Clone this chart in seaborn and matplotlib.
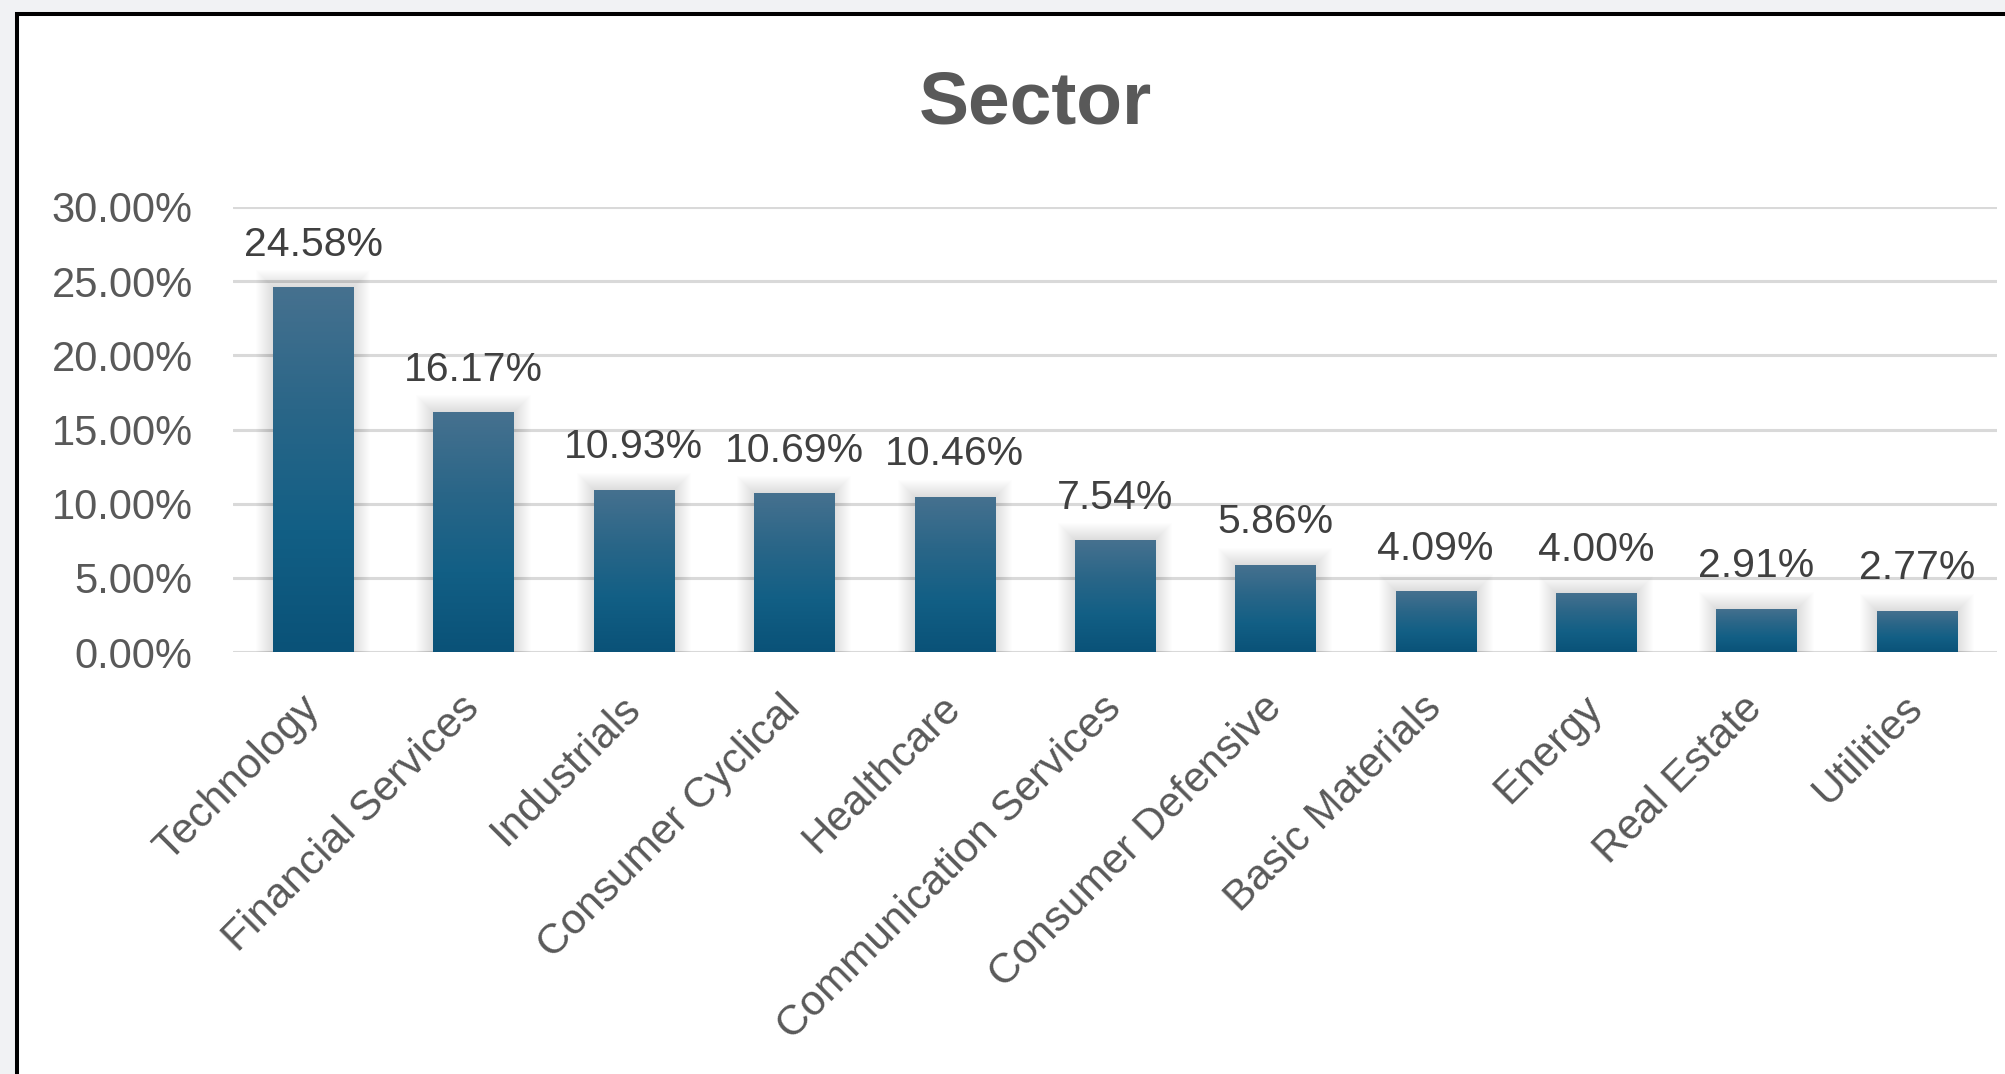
import numpy as np
import pandas as pd
import matplotlib
matplotlib.use("Agg")
import matplotlib.pyplot as plt
import seaborn as sns
from matplotlib.patches import Rectangle
from matplotlib.colors import LinearSegmentedColormap
from matplotlib.ticker import FuncFormatter, FixedLocator

# Sector allocation (% of portfolio)
sectors = ["Technology", "Financial Services", "Industrials", "Consumer Cyclical",
           "Healthcare", "Communication Services", "Consumer Defensive",
           "Basic Materials", "Energy", "Real Estate", "Utilities"]
weights = [24.58, 16.17, 10.93, 10.69, 10.46, 7.54, 5.86, 4.09, 4.00, 2.91, 2.77]
y_ticks = [0, 5, 10, 15, 20, 25, 30]
chart_title = "Sector"

sns.set_theme(style="white")
plt.rcParams["font.family"] = ["Liberation Sans", "DejaVu Sans"]

W, H = 2005, 1074
fig = plt.figure(figsize=(W / 100, H / 100), dpi=100, facecolor="#f1f2f4")

# white card with a heavy black edge on top and left
card = Rectangle((17 / W, -0.1), 1.0, 1.1 - 14 / H, transform=fig.transFigure,
                 facecolor="white", edgecolor="black", linewidth=2.9, zorder=-1)
fig.add_artist(card)

ax = fig.add_axes([233 / W, 1 - 652 / H, (1997 - 233) / W, (652 - 207) / H])
ax.patch.set_visible(False)

df = pd.DataFrame({"Sector": sectors, "Weight": weights})
sns.barplot(data=df, x="Sector", y="Weight", width=0.5, color="#135f85",
            saturation=1, ax=ax, zorder=3)

ax.set_xlim(-0.5, len(sectors) - 0.5)
ax.set_ylim(y_ticks[0], y_ticks[-1])

# vertical gradient fill plus a soft halo behind each bar
cmap = LinearSegmentedColormap.from_list("bar", ["#0a5278", "#125f85", "#2a6688", "#46718f"])
grad = np.linspace(0, 1, 256).reshape(-1, 1)
px_x = (1997 - 233) / len(sectors)
px_y = (652 - 207) / (y_ticks[-1] - y_ticks[0])
bars = list(ax.patches)
for p in bars:
    x0, w, h = p.get_x(), p.get_width(), p.get_height()
    for k in range(1, 18):
        dx, dy = k / px_x, k / px_y
        ax.add_patch(Rectangle((x0 - dx, 0), w + 2 * dx, h + dy, facecolor="black",
                               edgecolor="none", alpha=0.007, zorder=2))
    im = ax.imshow(grad, cmap=cmap, extent=[x0, x0 + w, 0, h], origin="lower",
                   aspect="auto", zorder=3, interpolation="bilinear")
    im.set_clip_path(p)
    p.set_facecolor("none")
    p.set_edgecolor("none")

ax.set_xlim(-0.5, len(sectors) - 0.5)
ax.set_ylim(y_ticks[0], y_ticks[-1])

ax.bar_label(ax.containers[0], labels=[f"{v:.2f}%" for v in weights],
             padding=17, fontsize=29.5, color="#404040")

ax.yaxis.set_major_locator(FixedLocator(y_ticks))
ax.yaxis.set_major_formatter(FuncFormatter(lambda v, _: f"{v:.2f}%"))
ax.yaxis.grid(True, color="#d9d9d9", linewidth=2.2)
ax.set_axisbelow(True)
for s in ax.spines.values():
    s.set_visible(False)

ax.tick_params(axis="y", length=0, pad=29, labelsize=30, labelcolor="#595959")
ax.tick_params(axis="x", length=0, pad=36, labelsize=30.5, labelcolor="#595959")
ax.set_xlabel("")
ax.set_ylabel("")
for lbl in ax.get_xticklabels():
    lbl.set_rotation(45)
    lbl.set_ha("right")
    lbl.set_va("center")
    lbl.set_rotation_mode("anchor")

fig.text(1035 / W, 1 - 123 / H, chart_title, ha="center", va="baseline",
         fontsize=54, fontweight="bold", color="#595959")

fig.savefig("out.png", dpi=100, facecolor=fig.get_facecolor())
